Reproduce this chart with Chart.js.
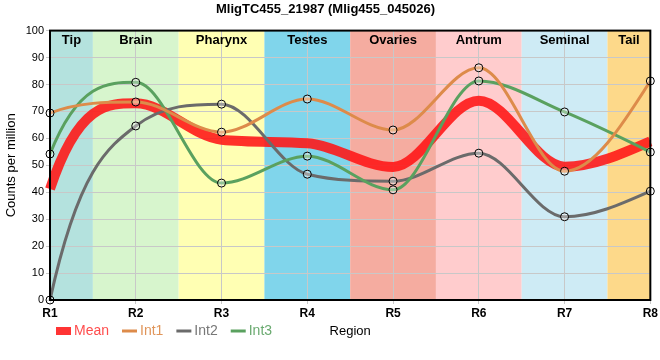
<!DOCTYPE html>
<html lang="en">
<head>
  <meta charset="UTF-8" />
  <title>MligTC455_21987</title>
  <script src="https://cdn.jsdelivr.net/npm/chart.js"></script>
  <style>
    html, body { margin: 0; padding: 0; background: #fff; }
    #wrap { width: 660px; height: 360px; }
  </style>
</head>
<body>
  <div id="wrap"><canvas id="regionChart" width="660" height="360"></canvas></div>

  <script>
    // data
    const regions = ['R1', 'R2', 'R3', 'R4', 'R5', 'R6', 'R7', 'R8'];
    const tissues = ['Tip', 'Brain', 'Pharynx', 'Testes', 'Ovaries', 'Antrum', 'Seminal', 'Tail'];
    const meanValues = [41.2, 73.0, 59.5, 58.2, 49.4, 74.0, 49.5, 58.9];
    const int1Values = [69.4, 73.5, 62.3, 74.6, 63.1, 86.2, 47.8, 81.3];
    const int2Values = [0, 64.6, 72.7, 46.7, 44.1, 54.5, 30.9, 40.4];
    const int3Values = [54.2, 80.8, 43.4, 53.4, 40.9, 81.3, 69.8, 54.9];
    const yTicks = [0, 10, 20, 30, 40, 50, 60, 70, 80, 90, 100];

    const tissueColors = ['#b4e2de', '#d7f5cd', '#ffffb3', '#80d5eb', '#f5aca0', '#ffcccd', '#ceebf5', '#fdd98a'];
    const FONT = '"Liberation Sans", Arial, sans-serif';

    const legendItems = [
      { text: 'Mean', line: 'rgba(255,30,30,0.9)', textColor: '#ff4d4d', width: 8 },
      { text: 'Int1', line: '#dd8b4a', textColor: '#e0955a', width: 3 },
      { text: 'Int2', line: '#6b6b6b', textColor: '#777777', width: 3 },
      { text: 'Int3', line: '#5aa15f', textColor: '#6aaa70', width: 3 }
    ];

    // monotone tangents like the reference: Fritsch-Carlson inside,
    // steep start, natural-ish end
    const smoothPlugin = {
      id: 'smoothX',
      beforeDatasetDraw(chart, args) {
        const meta = args.meta;
        const line = meta.dataset;
        const pts = meta.data;
        if (!line || pts.length < 3) return;
        const n = pts.length;
        const d = [], m = [];
        for (let i = 0; i < n - 1; i++) d.push((pts[i + 1].y - pts[i].y) / (pts[i + 1].x - pts[i].x));
        m[0] = d[0];
        m[n - 1] = d[n - 2];
        for (let i = 1; i < n - 1; i++) {
          m[i] = (d[i - 1] === 0 || d[i] === 0 || Math.sign(d[i - 1]) !== Math.sign(d[i])) ? 0 : (d[i - 1] + d[i]) / 2;
        }
        for (let i = 0; i < n - 1; i++) {
          if (d[i] === 0) { m[i] = m[i + 1] = 0; continue; }
          const a = m[i] / d[i], b = m[i + 1] / d[i];
          const sq = a * a + b * b;
          if (sq > 9) {
            const tau = 3 / Math.sqrt(sq);
            m[i] = a * tau * d[i];
            m[i + 1] = b * tau * d[i];
          }
        }
        let t0 = 3 * d[0] - 2 * m[1];
        if (Math.sign(t0) !== Math.sign(d[0])) t0 = 0;
        m[0] = t0;
        let te = (3 * d[n - 2] - m[n - 2]) / 2;
        if (Math.sign(te) !== Math.sign(d[n - 2])) te = 0;
        m[n - 1] = te;

        for (let i = 0; i < n; i++) {
          const pt = pts[i];
          const hp = i > 0 ? pt.x - pts[i - 1].x : 0;
          const hn = i < n - 1 ? pts[i + 1].x - pt.x : 0;
          pt.cp1x = pt.x - hp / 3;
          pt.cp1y = pt.y - hp * m[i] / 3;
          pt.cp2x = pt.x + hn / 3;
          pt.cp2y = pt.y + hn * m[i] / 3;
        }
        line._pointsUpdated = true;
        line._path = undefined;
      }
    };

    // coloured tissue bands behind the plot
    const bandsPlugin = {
      id: 'bands',
      beforeDraw(chart) {
        const { ctx, chartArea, scales } = chart;
        const x = scales.x;
        ctx.save();
        tissues.forEach((t, i) => {
          const x0 = Math.max(chartArea.left, x.getPixelForValue(i - 0.5));
          const x1 = Math.min(chartArea.right, x.getPixelForValue(i + 0.5));
          ctx.fillStyle = tissueColors[i];
          ctx.fillRect(x0, chartArea.top, x1 - x0, chartArea.bottom - chartArea.top);
        });
        ctx.restore();
      },
      beforeDatasetsDraw(chart) {
        const { ctx, chartArea, scales } = chart;
        const x = scales.x;
        ctx.save();
        ctx.font = 'bold 13px ' + FONT;
        ctx.fillStyle = '#000';
        ctx.textAlign = 'center';
        ctx.textBaseline = 'middle';
        tissues.forEach((t, i) => {
          const x0 = Math.max(chartArea.left, x.getPixelForValue(i - 0.5));
          const x1 = Math.min(chartArea.right, x.getPixelForValue(i + 0.5));
          ctx.fillText(t, (x0 + x1) / 2, chartArea.top + 10);
        });
        ctx.restore();
      },
      afterDraw(chart) {
        const { ctx, chartArea } = chart;
        ctx.save();
        // frame
        ctx.strokeStyle = '#000';
        ctx.lineWidth = 2;
        ctx.strokeRect(chartArea.left, chartArea.top, chartArea.right - chartArea.left, chartArea.bottom - chartArea.top);

        // legend row + axis title
        const y = 331;
        ctx.font = '14px ' + FONT;
        ctx.textBaseline = 'middle';
        ctx.textAlign = 'left';
        let lx = 56;
        legendItems.forEach(item => {
          ctx.strokeStyle = item.line;
          ctx.lineWidth = item.width;
          ctx.beginPath();
          ctx.moveTo(lx, y);
          ctx.lineTo(lx + 15, y);
          ctx.stroke();
          ctx.fillStyle = item.textColor;
          ctx.fillText(item.text, lx + 18, y);
          lx += 18 + ctx.measureText(item.text).width + 13;
        });
        ctx.fillStyle = '#000';
        ctx.textAlign = 'center';
        ctx.font = '13px ' + FONT;
        ctx.fillText('Region', (chartArea.left + chartArea.right) / 2, y);
        ctx.restore();
      }
    };

    const pointStyle = {
      pointRadius: 4,
      pointBorderColor: '#000',
      pointBorderWidth: 1,
      pointBackgroundColor: 'rgba(255,255,255,0.35)'
    };

    const ctx = document.getElementById('regionChart').getContext('2d');
    new Chart(ctx, {
      type: 'line',
      data: {
        labels: regions,
        datasets: [
          {
            label: 'Mean', data: meanValues, order: 4,
            borderColor: 'rgba(255,20,20,0.88)', borderWidth: 10,
            pointRadius: 0, cubicInterpolationMode: 'monotone'
          },
          Object.assign({
            label: 'Int1', data: int1Values, order: 1,
            borderColor: '#dd8b4a', borderWidth: 3, cubicInterpolationMode: 'monotone'
          }, pointStyle),
          Object.assign({
            label: 'Int2', data: int2Values, order: 3,
            borderColor: '#6b6b6b', borderWidth: 3, cubicInterpolationMode: 'monotone'
          }, pointStyle),
          Object.assign({
            label: 'Int3', data: int3Values, order: 2,
            borderColor: '#5aa15f', borderWidth: 3, cubicInterpolationMode: 'monotone'
          }, pointStyle)
        ]
      },
      options: {
        responsive: false,
        animation: false,
        clip: false,
        layout: { padding: { left: 0, right: 9, top: 0, bottom: 0 } },
        plugins: {
          legend: { display: false },
          tooltip: { enabled: false },
          title: {
            display: true,
            text: 'MligTC455_21987 (Mlig455_045026)',
            color: '#000',
            font: { family: FONT, size: 13, weight: 'bold' },
            padding: { top: 2, bottom: 13 }
          }
        },
        scales: {
          x: {
            offset: false,
            grid: { color: '#c8c8c8', lineWidth: 1, tickLength: 4, drawTicks: true },
            border: { display: false },
            ticks: { color: '#000', padding: 2, font: { family: FONT, size: 12, weight: 'bold' }, maxRotation: 0, autoSkip: false },
            afterFit(scale) { scale.height = 60; }
          },
          y: {
            min: 0, max: 100,
            afterBuildTicks(scale) { scale.ticks = yTicks.map(v => ({ value: v })); },
            grid: { color: '#c8c8c8', lineWidth: 1, tickLength: 4 },
            border: { display: false },
            ticks: { color: '#000', padding: 2, font: { family: FONT, size: 11 } },
            title: { display: true, text: 'Counts per million', color: '#000', font: { family: FONT, size: 13 }, padding: { top: 4, bottom: 2 } },
            afterFit(scale) { scale.width = 50; }
          }
        }
      },
      plugins: [bandsPlugin, smoothPlugin]
    });
  </script>
</body>
</html>
